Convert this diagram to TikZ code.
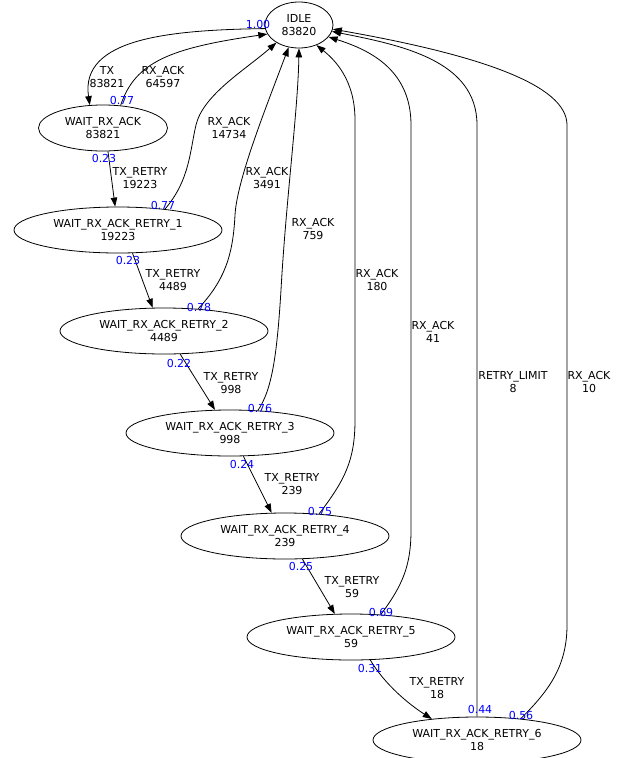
\documentclass[tikz,border=0pt]{standalone}
\usepackage{fontspec}
\setmainfont{DejaVu Sans}
\usetikzlibrary{shapes.geometric,arrows.meta}

\begin{document}
\begin{tikzpicture}[x=1pt, y=1pt]
    \tikzstyle{idle state}=[
        draw = black,
        line width = 0.8pt,
        ellipse,
        inner sep = 0pt,
        minimum width = 68pt,
        minimum height = 46pt,
        align = center,
        font = \fontsize{11}{13}\selectfont
    ]
    \tikzstyle{wait state}=[idle state, minimum width = 129pt]
    \tikzstyle{retry state}=[idle state, minimum width = 208pt]
    \tikzstyle{trans}=[-{Triangle[length = 9pt, width = 6.5pt]}, line width = 0.8pt]
    \tikzstyle{lbl}=[align = center, inner sep = 0pt, font = \fontsize{11}{13}\selectfont]
    \tikzstyle{prob}=[text = blue, inner sep = 0pt, font = \fontsize{11}{13}\selectfont]

    \useasboundingbox (0, 0) rectangle (624, -758);

    \node[idle state]  (idle) at (299, -25)  {IDLE\\83820};
    \node[wait state]  (w0)   at (103, -128) {WAIT\_RX\_ACK\\83821};
    \node[retry state] (w1)   at (118, -230) {WAIT\_RX\_ACK\_RETRY\_1\\19223};
    \node[retry state] (w2)   at (164, -331) {WAIT\_RX\_ACK\_RETRY\_2\\4489};
    \node[retry state] (w3)   at (230, -433) {WAIT\_RX\_ACK\_RETRY\_3\\998};
    \node[retry state] (w4)   at (285, -536) {WAIT\_RX\_ACK\_RETRY\_4\\239};
    \node[retry state] (w5)   at (351, -637) {WAIT\_RX\_ACK\_RETRY\_5\\59};
    \node[retry state] (w6)   at (477, -740) {WAIT\_RX\_ACK\_RETRY\_6\\18};

    % transitions
    \draw[trans] (idle.186) .. controls (170, -30) and (80, -38) .. (w0.120);
    \draw[trans] (w0.52) .. controls (135, -62) and (170, -48) .. (idle.196);
    \path[trans] (w0.282) edge (w1.97);
    \draw[trans] (w1.24) .. controls (190, -180) and (190, -150) .. (196, -125)
        .. controls (203, -95) and (245, -70) .. (idle.218);
    \path[trans] (w1.302) edge (w2.116);
    \draw[trans] (w2.33) .. controls (225, -280) and (233, -255) .. (235, -215)
        .. controls (237, -180) and (265, -110) .. (idle.245);
    \path[trans] (w2.305) edge (w3.123);
    \draw[trans] (w3.39) .. controls (272, -390) and (277, -355) .. (281, -290)
        .. controls (286, -200) and (298, -110) .. (idle.270);
    \path[trans] (w3.300) edge (w4.120);
    \draw[trans] (w4.33) .. controls (345, -480) and (355, -460) .. (355, -420)
        -- (355, -120) .. controls (355, -80) and (335, -60) .. (idle.311);
    \path[trans] (w4.307) edge (w5.125);
    \draw[trans] (w5.37) .. controls (403, -585) and (411, -565) .. (411, -530)
        -- (411, -125) .. controls (411, -70) and (370, -50) .. (idle.338);
    \draw[trans] (w5.310) .. controls (385, -685) and (410, -705) .. (w6.155);
    \draw[trans] (w6.90) -- (477, -125) .. controls (477, -60) and (400, -45) .. (idle.349);
    \draw[trans] (w6.26) .. controls (550, -690) and (567, -665) .. (567, -625)
        -- (567, -125) .. controls (567, -85) and (480, -55) .. (idle.353);

    % edge labels
    \node[lbl] (l0)  at (107, -77)  {TX\\83821};
    \node[lbl] (l1)  at (163, -77)  {RX\_ACK\\64597};
    \node[lbl] (l2)  at (140, -178) {TX\_RETRY\\19223};
    \node[lbl] (l3)  at (229, -128) {RX\_ACK\\14734};
    \node[lbl] (l4)  at (173, -280) {TX\_RETRY\\4489};
    \node[lbl] (l5)  at (267, -178) {RX\_ACK\\3491};
    \node[lbl] (l6)  at (231, -383) {TX\_RETRY\\998};
    \node[lbl] (l7)  at (313, -229) {RX\_ACK\\759};
    \node[lbl] (l8)  at (292, -484) {TX\_RETRY\\239};
    \node[lbl] (l9)  at (377, -280) {RX\_ACK\\180};
    \node[lbl] (l10) at (352, -587) {TX\_RETRY\\59};
    \node[lbl] (l11) at (433, -332) {RX\_ACK\\41};
    \node[lbl] (l12) at (437, -688) {TX\_RETRY\\18};
    \node[lbl] (l13) at (513, -382) {RETRY\_LIMIT\\8};
    \node[lbl] (l14) at (589, -382) {RX\_ACK\\10};

    % probabilities
    \node[prob] (p0)  at (258, -24)  {1.00};
    \node[prob] (p1)  at (122, -100) {0.77};
    \node[prob] (p2)  at (104, -158) {0.23};
    \node[prob] (p3)  at (163, -205) {0.77};
    \node[prob] (p4)  at (128, -260) {0.23};
    \node[prob] (p5)  at (199, -307) {0.78};
    \node[prob] (p6)  at (179, -363) {0.22};
    \node[prob] (p7)  at (260, -408) {0.76};
    \node[prob] (p8)  at (242, -464) {0.24};
    \node[prob] (p9)  at (320, -511) {0.75};
    \node[prob] (p10) at (301, -566) {0.25};
    \node[prob] (p11) at (381, -612) {0.69};
    \node[prob] (p12) at (370, -668) {0.31};
    \node[prob] (p13) at (480, -709) {0.44};
    \node[prob] (p14) at (521, -715) {0.56};

\end{tikzpicture}
\end{document}
